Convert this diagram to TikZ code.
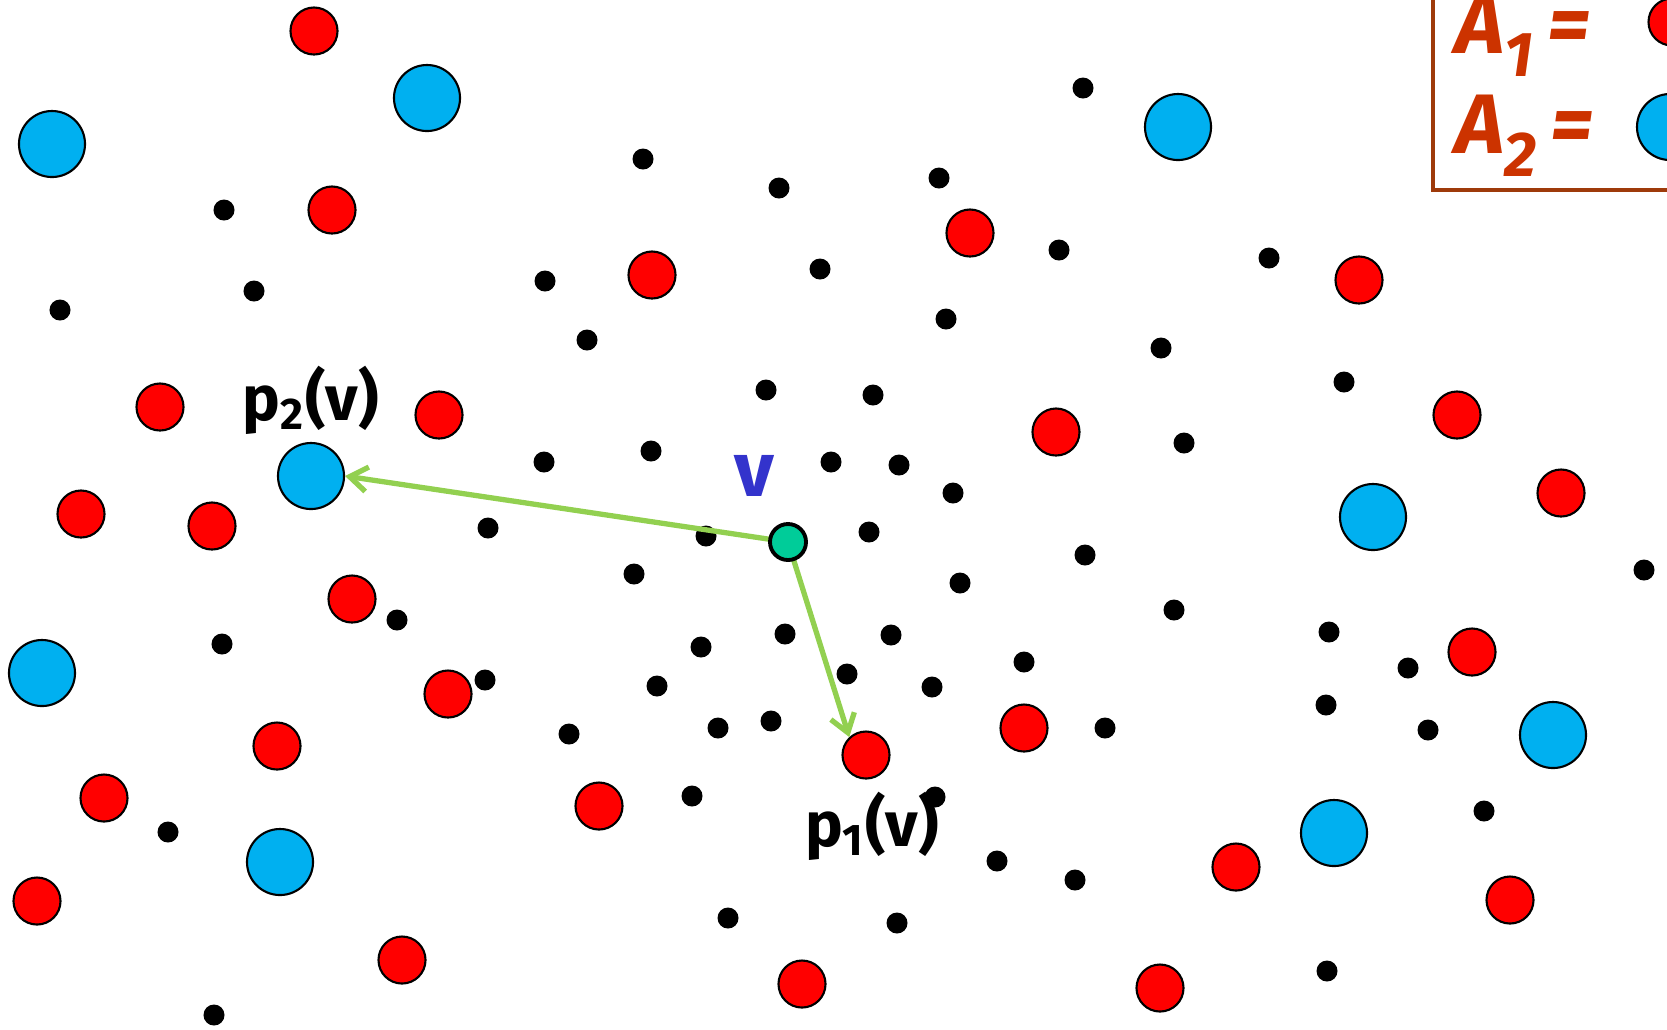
\documentclass[tikz,border=0pt]{standalone}
\usepackage{fontspec}
\setmainfont{Fira Sans}
\usetikzlibrary{arrows.meta}
\definecolor{ptred}{RGB}{255,0,0}
\definecolor{ptblue}{RGB}{0,176,240}
\definecolor{ptgreen}{RGB}{0,204,153}
\definecolor{arrgreen}{RGB}{146,208,80}
\definecolor{vblue}{RGB}{51,51,204}
\definecolor{legtext}{RGB}{204,51,0}
\definecolor{legframe}{RGB}{158,58,10}
\newcommand{\legsub}[1]{\raisebox{-0.28em}{\fontsize{18}{20}\selectfont #1}}
\tikzset{
  reddot/.style={circle, draw=black, line width=0.6pt, fill=ptred,
                 minimum size=0.47cm, inner sep=0pt},
  bluedot/.style={circle, draw=black, line width=0.6pt, fill=ptblue,
                  minimum size=0.66cm, inner sep=0pt},
  blkdot/.style={circle, fill=black, minimum size=0.21cm, inner sep=0pt},
  vdot/.style={circle, draw=black, line width=1.1pt, fill=ptgreen,
               minimum size=0.36cm, inner sep=0pt},
  arr/.style={-{Straight Barb[length=5pt,width=7pt]}, line width=1.5pt,
              arrgreen, line cap=round},
  lbl/.style={font=\fontsize{18}{20}\selectfont\bfseries, inner sep=0pt},
  leglbl/.style={font=\fontsize{24}{26}\selectfont\bfseries\itshape,
                 text=legtext, inner sep=0pt, anchor=base west},
}

\begin{document}
\begin{tikzpicture}[x=0.01cm, y=-0.01cm]
  \useasboundingbox (0,0) rectangle (1667,1029);

  % Points not in any set
  \foreach \px/\py [count=\i] in {1083/88, 643/159, 779/188, 939/178, 224/210,
      1059/250, 1269/258, 820/269, 545/281, 254/291, 60/310, 946/319, 587/340,
      1161/348, 1344/382, 766/390, 873/395, 1184/443, 544/462, 651/451,
      831/462, 899/465, 953/493, 488/528, 706/536, 869/532, 1085/555, 634/574,
      960/583, 1644/570, 1174/610, 397/620, 222/644, 1329/632, 701/647,
      785/634, 891/635, 1408/668, 1024/662, 485/680, 847/674, 657/686,
      932/687, 1326/705, 569/734, 718/728, 771/721, 1105/728, 1428/730,
      692/796, 935/797, 168/832, 1484/811, 997/861, 1075/880, 728/918,
      897/923, 1327/971, 214/1015}
    \node[blkdot] (b\i) at (\px,\py) {};

  % Set A_1
  \foreach \px/\py [count=\i] in {314/31, 332/210, 652/275, 970/233, 1359/280,
      160/407, 439/415, 1056/432, 1457/415, 81/514, 212/526, 1561/493,
      352/599, 448/694, 1472/652, 277/746, 1024/728, 104/798, 599/806,
      1236/867, 37/901, 1510/900, 402/960, 802/984, 1160/988}
    \node[reddot] (r\i) at (\px,\py) {};
  \node[reddot] (p1) at (866,755) {};

  % Set A_2
  \foreach \px/\py [count=\i] in {427/98, 52/144, 1178/127, 1373/517, 42/673,
      1553/735, 280/862, 1334/833}
    \node[bluedot] (a\i) at (\px,\py) {};
  \node[bluedot] (p2) at (311,476) {};

  % Pivots of v
  \coordinate (vc) at (788,542);
  \draw[arr] (vc) -- (p2.east);
  \draw[arr] (vc) -- (p1.133);
  \node[vdot] (v) at (vc) {};

  % Labels
  \node[lbl, text=vblue, font=\fontsize{22}{24}\selectfont\bfseries]
    (lv) at (754,476) {v};
  \node[lbl] (lp2) at (311,400) {p\textsubscript{2}(v)};
  \node[lbl] (lp1) at (872,826) {p\textsubscript{1}(v)};

  % Legend
  \draw[legframe, line width=1.1pt] (1433,-20) -- (1433,190) -- (1700,190);
  \node[leglbl] (leg1) at (1455,53) {A\legsub{1}\,=};
  \node[leglbl] (leg2) at (1455,153) {A\legsub{2}\,=};
  \node[reddot] (legr) at (1672,22) {};
  \node[bluedot] (legb) at (1670,127) {};
\end{tikzpicture}
\end{document}
